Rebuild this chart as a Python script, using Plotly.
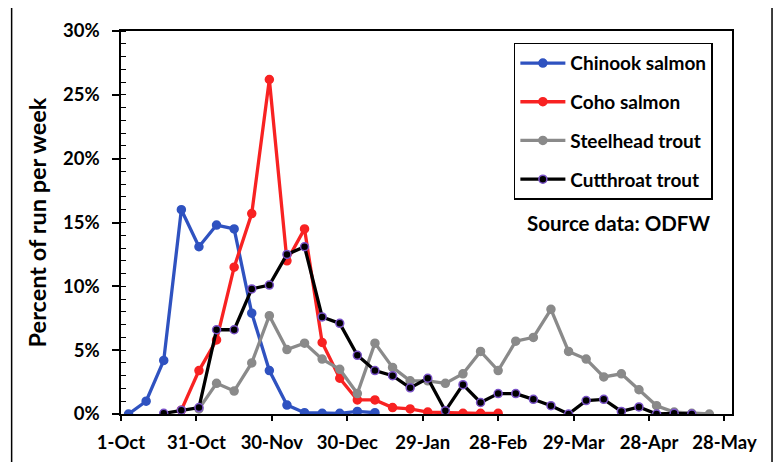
import pandas as pd
import plotly.graph_objects as go

# ---- data (percent of run per week) ----
week_start = "2019-10-04"
n_weeks = 34
weeks = pd.date_range(week_start, periods=n_weeks, freq="7D")

chinook = [0.0, 1.0, 4.2, 16.0, 13.1, 14.8, 14.5, 7.9, 3.4, 0.7, 0.1, 0.05, 0.05, 0.2, 0.1] + [None] * 19
coho = [None, None, None, 0.3, 3.4, 5.8, 11.5, 15.7, 26.2, 12.0, 14.5, 5.6, 2.8, 1.1, 1.1,
        0.5, 0.4, 0.15, 0.1, 0.05, 0.05, 0.05] + [None] * 12
steelhead = [None] * 4 + [0.4, 2.4, 1.8, 4.0, 7.7, 5.05, 5.55, 4.3, 3.5, 1.6, 5.55, 3.65, 2.6, 2.6,
                          2.4, 3.15, 4.9, 3.4, 5.7, 6.0, 8.2, 4.9, 4.3, 2.9, 3.15, 1.9, 0.65, 0.15,
                          0.05, 0.0]
cutthroat = [None] * 2 + [0.05, 0.3, 0.5, 6.6, 6.6, 9.8, 10.1, 12.5, 13.1, 7.6, 7.1, 4.6, 3.4, 3.0,
                          2.05, 2.8, 0.25, 2.3, 0.9, 1.6, 1.6, 1.15, 0.65, 0.0, 1.05, 1.15, 0.2, 0.55,
                          0.0, 0.05, 0.0] + [None]

tick_dates = ["2019-10-01", "2019-10-31", "2019-11-30", "2019-12-30", "2020-01-29",
              "2020-02-28", "2020-03-29", "2020-04-28", "2020-05-28"]
tick_labels = ["1-Oct", "31-Oct", "30-Nov", "30-Dec", "29-Jan", "28-Feb", "29-Mar", "28-Apr", "28-May"]
x_range = ["2019-10-01", "2020-05-31"]
y_ticks = [0, 5, 10, 15, 20, 25, 30]
y_tick_labels = ["0%", "5%", "10%", "15%", "20%", "25%", "30%"]

series = [
    ("Chinook salmon", chinook, "#2F52C0", "#2F52C0"),
    ("Coho salmon", coho, "#F82222", "#F82222"),
    ("Steelhead trout", steelhead, "#8A8A8A", "#8A8A8A"),
    ("Cutthroat trout", cutthroat, "#000000", "#7A52C8"),
]

FONT = "Lato"

fig = go.Figure()
for i, (name, vals, col, edge) in enumerate(series):
    fig.add_trace(go.Scatter(
        x=weeks, y=vals, name=name, mode="lines+markers",
        line=dict(color=col, width=3.3),
        marker=dict(color=col, size=8, line=dict(color=edge, width=1.5)),
        legendgroup=f"g{i}",
    ))

axis_common = dict(showgrid=False, zeroline=False)

fig.update_layout(
    width=783, height=462,
    margin=dict(l=113, r=59, t=23, b=56),
    plot_bgcolor="white", paper_bgcolor="white",
    font=dict(family=FONT, size=16, color="black", weight="bold"),
    xaxis=dict(
        type="date", range=x_range, tickvals=tick_dates, ticktext=tick_labels,
        ticks="outside", ticklen=5, tickwidth=1.5, tickcolor="black",
        showline=True, linecolor="black", linewidth=1.5, mirror=True,
        ticklabelstandoff=6,
        tickfont=dict(family=FONT, size=18.5, color="black", weight="bold"),
        **axis_common,
    ),
    yaxis=dict(
        range=[0, 30], tickvals=y_ticks, ticktext=y_tick_labels,
        ticks="outside", ticklen=7, tickwidth=1.5, tickcolor="black",
        minor=dict(dtick=1, ticks="inside", ticklen=5, tickwidth=1.3, tickcolor="black"),
        showline=True, linecolor="black", linewidth=1.5, mirror=True,
        ticklabelstandoff=9,
        tickfont=dict(family=FONT, size=18.5, color="black", weight="bold"),
        title=dict(text="Percent of run per week", standoff=10,
                   font=dict(family=FONT, size=23.5, color="black", weight="bold")),
        **axis_common,
    ),
    xaxis2=dict(
        type="date", range=x_range, tickvals=tick_dates, overlaying="x", anchor="y",
        ticks="inside", ticklen=4, tickwidth=1.5, tickcolor="black",
        showticklabels=False, showline=False, **axis_common,
    ),
    yaxis2=dict(
        range=[0, 30], tickvals=y_ticks, overlaying="y", anchor="x",
        ticks="inside", ticklen=5, tickwidth=1.5, tickcolor="black",
        showticklabels=False, showline=False, **axis_common,
    ),
    legend=dict(
        x=0.643, y=0.9695, xanchor="left", yanchor="top",
        bordercolor="black", borderwidth=1.5, bgcolor="white",
        font=dict(family=FONT, size=19, color="black", weight="bold"),
        tracegroupgap=11, itemwidth=45,
    ),
    annotations=[dict(
        text="Source data: ODFW", xref="paper", yref="paper", x=0.814, y=0.50,
        xanchor="center", yanchor="middle", showarrow=False,
        font=dict(family=FONT, size=20.5, color="black", weight="bold"),
    )],
    shapes=[dict(
        type="rect", xref="paper", yref="paper", x0=-0.179, x1=1.0655, y0=-0.3, y1=1.0705,
        line=dict(color="black", width=1.5), fillcolor="rgba(0,0,0,0)", layer="below",
    )],
)

fig.write_html("out.html")
